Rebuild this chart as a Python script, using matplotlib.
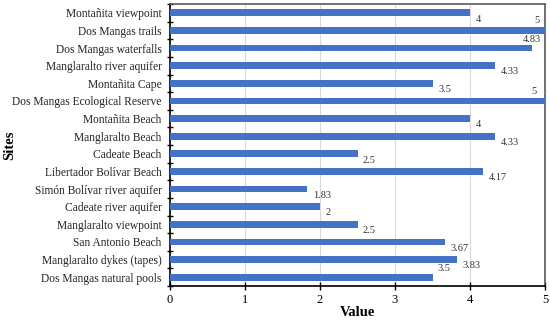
import matplotlib.pyplot as plt
import numpy as np

sites = ["Montañita viewpoint", "Dos Mangas trails", "Dos Mangas waterfalls",
         "Manglaralto river aquifer", "Montañita Cape", "Dos Mangas Ecological Reserve",
         "Montañita Beach", "Manglaralto Beach", "Cadeate Beach", "Libertador Bolívar Beach",
         "Simón Bolívar river aquifer", "Cadeate river aquifer", "Manglaralto viewpoint",
         "San Antonio Beach", "Manglaralto dykes (tapes)", "Dos Mangas natural pools"]
values = [4, 5, 4.83, 4.33, 3.5, 5, 4, 4.33, 2.5, 4.17, 1.83, 2, 2.5, 3.67, 3.83, 3.5]
value_labels = ["4", "5", "4.83", "4.33", "3.5", "5", "4", "4.33", "2.5", "4.17",
                "1.83", "2", "2.5", "3.67", "3.83", "3.5"]

# label offsets in points (default: right of bar end, a bit below)
special = {1: (-6, 7, "center"), 2: (0, 6, "center"), 5: (-8, 7, "center"), 15: (8, 6.5, "center")}

serif = "Liberation Serif"
fig = plt.figure(figsize=(5.5, 3.2), dpi=100)
ax = fig.add_axes([170 / 550, 34 / 320, 375 / 550, 282 / 320])

y = np.arange(len(sites))[::-1]
ax.barh(y, values, height=0.38, color="#4472C4", zorder=3)

ax.set_xlim(0, 5)
ax.set_ylim(-0.5, len(sites) - 0.5)
ax.set_xticks(range(6))
ax.set_xticklabels([str(i) for i in range(6)], fontsize=9, family=serif)
ax.set_yticks(y)
ax.set_yticklabels(sites, fontsize=8.3, family=serif, color="#222222")
ax.set_yticks(np.arange(-0.5, len(sites), 1), minor=True)
ax.tick_params(axis="y", which="major", length=0, pad=6)
ax.tick_params(axis="y", which="minor", length=5, width=1, direction="inout")
ax.tick_params(axis="x", which="major", length=6, width=1, direction="inout", pad=3)
ax.grid(axis="x", color="#D9D9D9", linewidth=0.8, zorder=0)

for s in ["left", "bottom"]:
    ax.spines[s].set_color("black")
    ax.spines[s].set_linewidth(1.2)
for s in ["top", "right"]:
    ax.spines[s].set_color("#595959")
    ax.spines[s].set_linewidth(1.2)

for i, (v, lab) in enumerate(zip(values, value_labels)):
    if i in special:
        dx, dy, ha = special[i]
    else:
        dx, dy, ha = 4, -4.5, "left"
    ax.annotate(lab, (v, y[i]), xytext=(dx, dy), textcoords="offset points",
                ha=ha, va="center", fontsize=7.5, family=serif, color="#333333",
                annotation_clip=False)
ax.annotate("", (5, y[5] + 0.5), xytext=(5.02, y[5] + 0.55),
            arrowprops=dict(arrowstyle="-", color="#999999", lw=0.6), annotation_clip=False)

ax.set_xlabel("Value", fontsize=10.5, fontweight="bold", family=serif)
ax.xaxis.set_label_coords(0.5, -20 / 282, transform=ax.transAxes)
ax.set_ylabel("Sites", fontsize=10.5, fontweight="bold", family=serif)
ax.yaxis.set_label_coords(-154 / 375, 0.5, transform=ax.transAxes)

fig.savefig("out.png", dpi=100)
